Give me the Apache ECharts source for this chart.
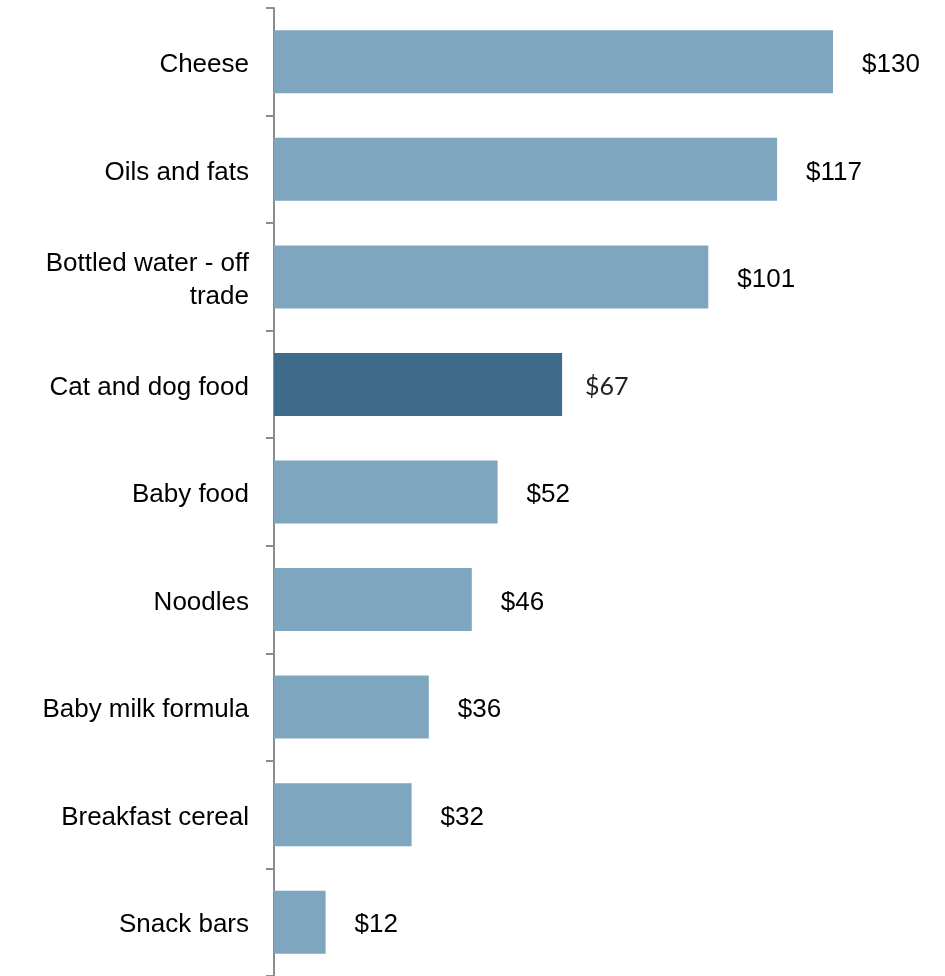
<!DOCTYPE html>
<html><head><meta charset="utf-8">
<script src="https://cdn.jsdelivr.net/npm/echarts@6/dist/echarts.min.js"></script>
<style>html,body{margin:0;padding:0;background:#fff}#c{width:945px;height:976px}</style>
</head><body><div id="c"></div>
<script>
const categories = ["Cheese","Oils and fats","Bottled water - off trade","Cat and dog food","Baby food","Noodles","Baby milk formula","Breakfast cereal","Snack bars"];
const values = [130,117,101,67,52,46,36,32,12];
const highlighted = "Cat and dog food";

const chart = echarts.init(document.getElementById('c'));
chart.setOption({
  animation: false,
  grid: {left: 274, top: 8, width: 645, height: 970, containLabel: false},
  xAxis: {type: 'value', min: 0, max: 150, show: false},
  yAxis: {
    type: 'category', data: categories, inverse: true,
    axisLine: {show: true, lineStyle: {color: '#8c8c8c', width: 2}},
    axisTick: {show: true, length: 8, lineStyle: {color: '#8c8c8c', width: 2}},
    axisLabel: {
      margin: 25, fontSize: 26, color: '#000', fontFamily: "'Liberation Sans', Arial, sans-serif",
      lineHeight: 33, align: 'right',
      formatter: v => '{a|' + (v === 'Bottled water - off trade' ? 'Bottled water - off}\n{a|trade' : v) + '}',
      rich: {a: {fontSize: 26, lineHeight: 33, padding: [6, 0, 0, 0], fontFamily: "'Liberation Sans', Arial, sans-serif", color: '#000'}}
    }
  },
  series: [{
    type: 'bar', barWidth: 63,
    data: values.map((v, i) => {
      const hi = categories[i] === highlighted;
      return {
        value: v,
        itemStyle: {color: hi ? '#3e6b8a' : '#7ea6bf'},
        label: hi ? {fontFamily: "Lato, 'Open Sans', sans-serif", fontWeight: 'normal', fontSize: 25, color: '#222', distance: 23, offset: [0, 2]} : {}
      };
    }),
    label: {
      show: true, position: 'right', distance: 29, fontSize: 26, color: '#000', offset: [0, 3],
      fontFamily: "'Liberation Sans', Arial, sans-serif",
      formatter: p => '$' + p.value
    }
  }]
});
</script></body></html>
